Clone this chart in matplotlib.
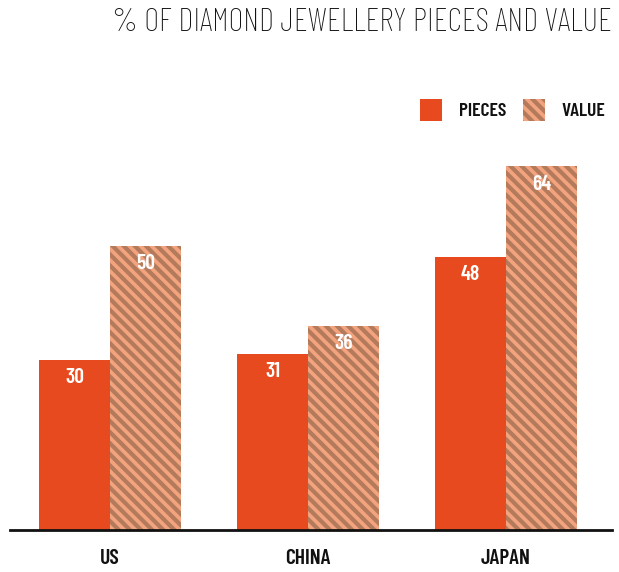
import matplotlib
matplotlib.use("Agg")
import matplotlib.pyplot as plt
from matplotlib.patches import Rectangle

categories = ["US", "CHINA", "JAPAN"]
pieces = [30, 31, 48]
value = [50, 36, 64]
series_names = ["PIECES", "VALUE"]
title = "% OF DIAMOND JEWELLERY PIECES AND VALUE"

plt.rcParams['font.family'] = ['Barlow Condensed', 'DejaVu Sans']
plt.rcParams['hatch.color'] = '#B47A5C'
plt.rcParams['hatch.linewidth'] = 3.0

W, H = 619, 572
fig = plt.figure(figsize=(W/100, H/100), dpi=100)
ax = fig.add_axes([10/W, (H-530)/H, (612-10)/W, (530-90)/H])

red = '#E64A1E'
peach = '#F3A47F'
hatch = '\\\\\\'
x = list(range(len(categories)))
bw = 0.357
b1 = ax.bar([i - bw/2 for i in x], pieces, width=bw, color=red, linewidth=0)
b2 = ax.bar([i + bw/2 for i in x], value, width=bw, color=peach, hatch=hatch, edgecolor='#B47A5C', linewidth=0)

for bars, vals in ((b1, pieces), (b2, value)):
    for rect, v in zip(bars, vals):
        ax.text(rect.get_x() + rect.get_width()/2, v - 3.1, str(v), ha='center', va='center',
                color='white', fontsize=15.5, fontweight='semibold')

ax.set_xlim(-0.505, 2.535)
ax.set_ylim(0, 440/5.68)
for s in ['top', 'right', 'left']:
    ax.spines[s].set_visible(False)
ax.spines['bottom'].set_linewidth(2)
ax.spines['bottom'].set_color('#111111')
ax.set_yticks([])
ax.set_xticks(x)
ax.set_xticklabels(categories, fontsize=15.5, fontweight='semibold', color='#111111')
ax.tick_params(axis='x', length=0, pad=14)

fig.text(612/W, 1 - 23/H, title, ha='right', va='center', fontsize=23.6, fontweight='light', color='#111111')

# legend
legend_y = 1 - 111/H
fig.patches.append(Rectangle((420/W, 1 - 121/H), 22/W, 22/H, transform=fig.transFigure,
                             facecolor=red, linewidth=0))
fig.patches.append(Rectangle((523/W, 1 - 121/H), 22/W, 22/H, transform=fig.transFigure,
                             facecolor=peach, hatch=hatch, edgecolor='#B47A5C', linewidth=0))
fig.text(459/W, legend_y, series_names[0], ha='left', va='center', fontsize=14, fontweight='semibold', color='#111111')
fig.text(561/W, legend_y, series_names[1], ha='left', va='center', fontsize=14, fontweight='semibold', color='#111111')

fig.savefig("out.png", dpi=100)
